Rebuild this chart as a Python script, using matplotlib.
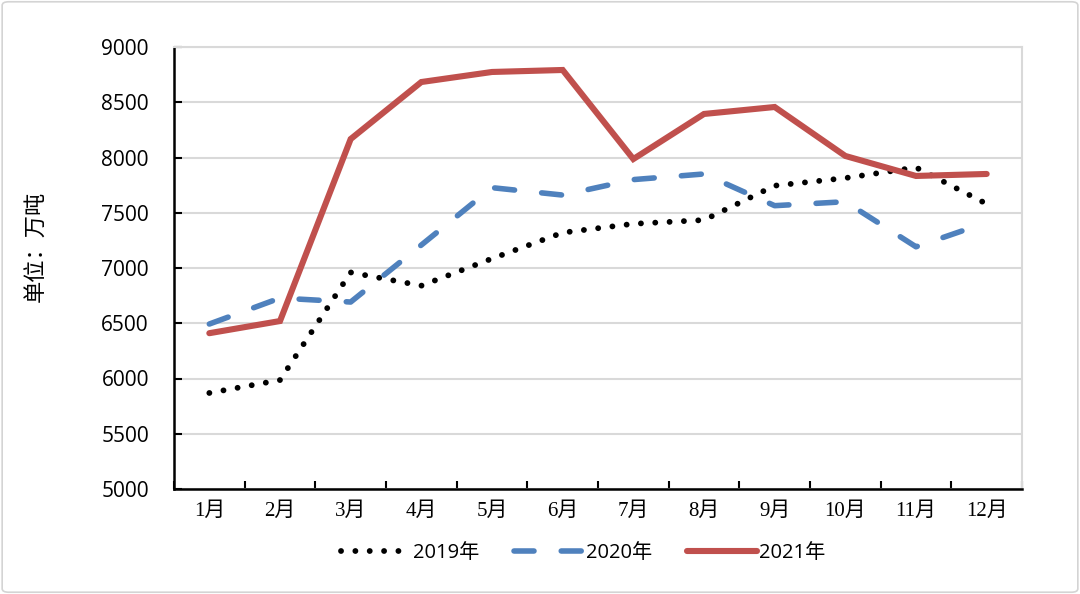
import matplotlib
matplotlib.use("Agg")
import matplotlib.pyplot as plt
import numpy as np
from matplotlib.patches import FancyBboxPatch

months = ["1月", "2月", "3月", "4月", "5月", "6月", "7月", "8月", "9月", "10月", "11月", "12月"]
y2019 = [5869, 5986, 6960, 6840, 7085, 7320, 7400, 7434, 7745, 7814, 7910, 7580]
y2020 = [6493, 6728, 6692, 7208, 7727, 7660, 7800, 7851, 7564, 7600, 7192, 7412]
y2021 = [6410, 6520, 8167, 8683, 8774, 8792, 7986, 8394, 8457, 8014, 7833, 7851]
yticks = [5000, 5500, 6000, 6500, 7000, 7500, 8000, 8500, 9000]

fig = plt.figure(figsize=(10.8, 5.94), dpi=100)
ax = fig.add_axes([174/1080, 1 - 489/594, (1022-174)/1080, (489-47)/594])

# figure border
fig.patches.append(FancyBboxPatch((0.002, 0.003), 0.996, 0.994,
                                  boxstyle="round,pad=0,rounding_size=0.006",
                                  transform=fig.transFigure, fill=False,
                                  edgecolor="#d4d4d4", linewidth=1.2))

x = np.arange(len(months))
red = "#C0504D"
blue = "#4F81BD"

ax.plot(x, y2019, color="black", linewidth=4.2, linestyle=(0, (0.01, 2.45)),
        dash_capstyle="round", label="2019年", zorder=3)
ax.plot(x, y2020, color=blue, linewidth=4.0, linestyle=(0, (3.6, 4.9)),
        dash_capstyle="round", solid_capstyle="round", label="2020年", zorder=3)
ax.plot(x, y2021, color=red, linewidth=4.4, solid_capstyle="round",
        solid_joinstyle="miter", label="2021年", zorder=4)

ax.set_xlim(-0.5, 11.5)
ax.set_ylim(5000, 9000)
ax.set_yticks(yticks)
ax.set_yticklabels([str(v) for v in yticks], fontfamily="Open Sans", fontsize=15)
ax.grid(axis="y", color="#d9d9d9", linewidth=1.5, zorder=0)
ax.set_axisbelow(True)

ax.set_xticks(np.arange(-0.5, 12, 1))
ax.set_xticklabels([])
ax.set_xticks(x, minor=True)
ax.set_xticklabels(months, minor=True, fontfamily=["Liberation Serif", "Noto Sans CJK SC"], fontsize=15)
ax.tick_params(axis="x", which="major", direction="in", length=6, width=1.5, color="black")
ax.tick_params(axis="x", which="minor", length=0, pad=9)
ax.tick_params(axis="y", direction="in", length=6, width=1.5, color="black", pad=18)

for s in ["left", "bottom"]:
    ax.spines[s].set_color("black")
    ax.spines[s].set_linewidth(1.8)
for s in ["top", "right"]:
    ax.spines[s].set_color("#d9d9d9")
    ax.spines[s].set_linewidth(1.5)

fig.text(36/1080, 1 - 246/594, "单位：万吨", rotation=90, ha="center", va="center",
         fontfamily=["Noto Sans CJK SC"], fontsize=16)

leg = fig.legend(loc="center", bbox_to_anchor=(583/1080, 1 - 553/594), ncol=3, frameon=False,
                 prop={"family": ["Open Sans", "Noto Sans CJK SC"], "size": 14.5},
                 handlelength=3.5, handletextpad=0.1, columnspacing=1.7)

fig.savefig("out.png", dpi=100, facecolor="white")
